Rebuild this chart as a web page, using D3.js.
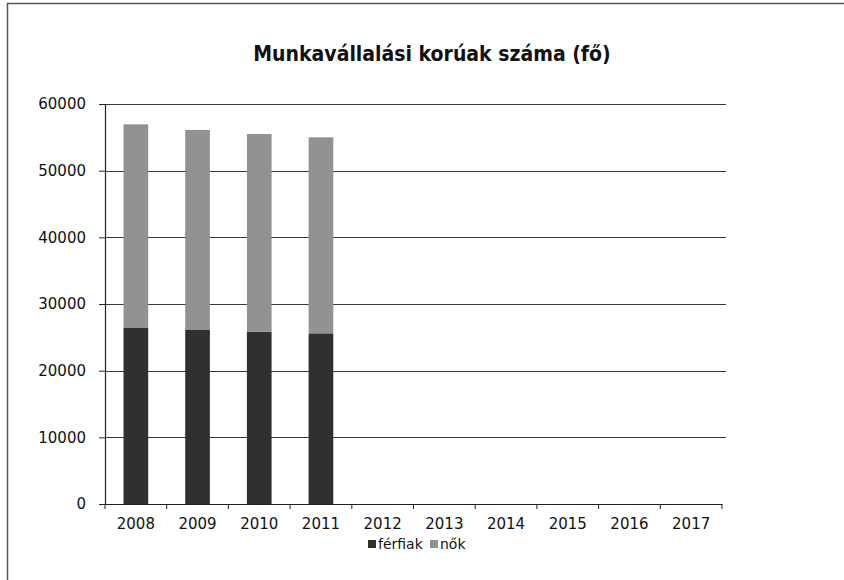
<!DOCTYPE html>
<html>
<head>
<meta charset="utf-8">
<script src="https://cdn.jsdelivr.net/npm/d3@7"></script>
<style>
body { margin: 0; background: #fff; }
svg { display: block; }
</style>
</head>
<body>
<svg></svg>
<script>
var svgWidth = 844;
var svgHeight = 580;

var years = ["2008", "2009", "2010", "2011", "2012", "2013", "2014", "2015", "2016", "2017"];
var ferfiak = [26400, 26100, 25850, 25600, null, null, null, null, null, null];
var nok = [30550, 30000, 29650, 29400, null, null, null, null, null, null];
var seriesNames = ["férfiak", "nők"];
var seriesColors = ["#303030", "#929292"];
var yTicks = [0, 10000, 20000, 30000, 40000, 50000, 60000];
var title = "Munkavállalási korúak száma (fő)";

var margin = {left: 105, right: 122, top: 104, bottom: 76};

var svg = d3.select("svg")
    .attr("width", svgWidth)
    .attr("height", svgHeight);

// scanned frame edges
svg.append("line").attr("x1", 7).attr("x2", svgWidth).attr("y1", 3.5).attr("y2", 3.5)
    .attr("stroke", "#555").attr("stroke-width", 1.5);
svg.append("line").attr("x1", 7.5).attr("x2", 7.5).attr("y1", 3).attr("y2", svgHeight)
    .attr("stroke", "#555").attr("stroke-width", 1.5);

var x = d3.scaleBand()
    .domain(years)
    .range([margin.left, svgWidth - margin.right])
    .paddingInner(0.6)
    .paddingOuter(0.3);

var y = d3.scaleLinear()
    .domain([0, 60000])
    .range([svgHeight - margin.bottom, margin.top]);

svg.append("text")
    .attr("x", 432)
    .attr("y", 61)
    .attr("text-anchor", "middle")
    .style("font-family", "'DejaVu Sans Condensed', 'DejaVu Sans', sans-serif")
    .style("font-weight", "bold")
    .style("font-size", "21px")
    .attr("fill", "#111")
    .text(title);

// gridlines
svg.append("g")
    .selectAll("line")
    .data(yTicks.slice(1))
    .enter()
    .append("line")
    .attr("x1", margin.left)
    .attr("x2", svgWidth - margin.right + 4)
    .attr("y1", function(d) { return Math.round(y(d)) + 0.5; })
    .attr("y2", function(d) { return Math.round(y(d)) + 0.5; })
    .attr("stroke", "#3a3a3a")
    .attr("stroke-width", 1.2);

var stackData = years.map(function(yr, i) {
    return {year: yr, f: ferfiak[i], n: nok[i]};
}).filter(function(d) { return d.f != null; });

var stack = d3.stack().keys(["f", "n"])(stackData);

svg.append("g")
    .selectAll("g")
    .data(stack)
    .enter()
    .append("g")
    .attr("fill", function(d, i) { return seriesColors[i]; })
    .selectAll("rect")
    .data(function(d) { return d; })
    .enter()
    .append("rect")
    .attr("x", function(d) { return x(d.data.year); })
    .attr("width", x.bandwidth())
    .attr("y", function(d) { return y(d[1]); })
    .attr("height", function(d) { return y(d[0]) - y(d[1]); });

// y axis
var yAxis = d3.axisLeft(y)
    .tickValues(yTicks)
    .tickSize(6)
    .tickPadding(13)
    .tickFormat(d3.format("d"));

var gy = svg.append("g")
    .attr("transform", "translate(" + margin.left + ",0)")
    .call(yAxis);

// x axis, ticks between categories
var xAxis = d3.axisBottom(x).tickSize(0).tickPadding(14);
var gx = svg.append("g")
    .attr("transform", "translate(0," + (svgHeight - margin.bottom) + ")")
    .call(xAxis);

var step = x.step();
var boundaries = d3.range(years.length + 1).map(function(i) {
    return margin.left + i * step;
});
gx.selectAll(".sep")
    .data(boundaries)
    .enter()
    .append("line")
    .attr("x1", function(d) { return d; })
    .attr("x2", function(d) { return d; })
    .attr("y1", 0)
    .attr("y2", 5)
    .attr("stroke", "#222");

[gx, gy].forEach(function(g) {
    g.selectAll(".domain").attr("stroke", "#222").attr("stroke-width", 1.2);
    g.selectAll(".tick line").attr("stroke", "#222");
    g.selectAll("text")
        .style("font-family", "'DejaVu Sans', sans-serif")
        .style("font-size", "15px")
        .attr("fill", "#111");
});

// legend (just under the year labels)
var legend = svg.append("g")
    .attr("transform", "translate(368,549)");
var lx = [0, 62];
seriesNames.forEach(function(name, i) {
    legend.append("rect")
        .attr("x", lx[i])
        .attr("y", -9)
        .attr("width", 8)
        .attr("height", 8)
        .attr("fill", seriesColors[i]);
    legend.append("text")
        .attr("x", lx[i] + 10)
        .attr("y", 0)
        .style("font-family", "'DejaVu Sans', sans-serif")
        .style("font-size", "14px")
        .attr("fill", "#111")
        .text(name);
});
</script>
</body>
</html>
